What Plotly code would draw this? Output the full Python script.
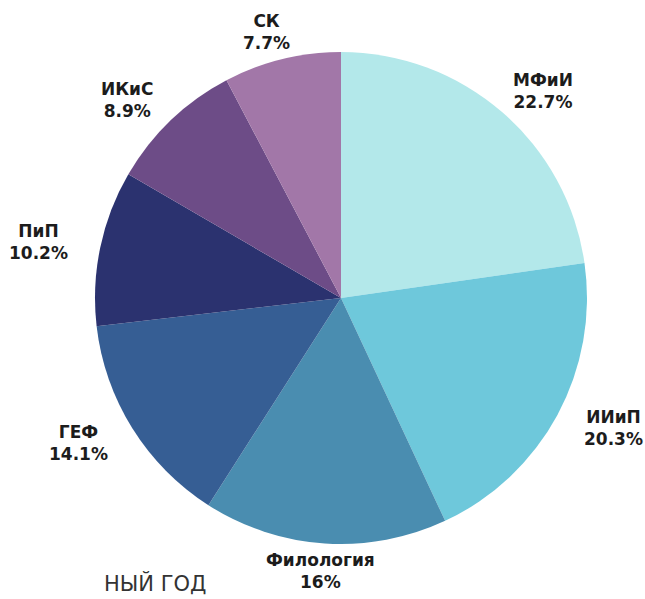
import math
import plotly.graph_objects as go

labels = ["МФиИ", "ИИиП", "Филология", "ГЕФ", "ПиП", "ИКиС", "СК"]
values = [22.7, 20.3, 16.0, 14.1, 10.2, 8.9, 7.7]
pct_text = ["22.7%", "20.3%", "16%", "14.1%", "10.2%", "8.9%", "7.7%"]
colors = ["#b3e8ea", "#6ec8db", "#4a8db0", "#365e94", "#2b326f", "#6d4c87", "#a277a8"]

W, H = 645, 599
cx, cy, r = 341, 298, 246
lab_rx, lab_ry = 1.18 * 262, 1.18 * 232
FONT = "DejaVu Sans, Verdana, sans-serif"

fig = go.Figure(go.Pie(
    labels=labels,
    values=values,
    text=pct_text,
    textinfo="none",
    marker=dict(colors=colors, line=dict(width=0)),
    sort=False,
    direction="clockwise",
    rotation=0,
    showlegend=False,
    hoverinfo="label+text",
    domain=dict(x=[(cx - r) / W, (cx + r) / W], y=[(H - cy - r) / H, (H - cy + r) / H]),
))

# data labels placed at each slice's mid-angle
total = sum(values)
cum = 0.0
for lab, v, t in zip(labels, values, pct_text):
    mid = (cum + v / 2) / total * 2 * math.pi
    cum += v
    px = cx + lab_rx * math.sin(mid)
    py = cy - lab_ry * math.cos(mid)
    fig.add_annotation(
        text=f"<b>{lab}</b><br><b>{t}</b>",
        xref="paper", yref="paper",
        x=px / W, y=1 - py / H, xanchor="center", yanchor="middle",
        showarrow=False, align="center",
        font=dict(family=FONT, size=17, color="#1c1c1c"),
    )

fig.add_annotation(
    text="НЫЙ ГОД", xref="paper", yref="paper",
    x=208 / W, y=1 - 583 / H, xanchor="right", yanchor="middle",
    showarrow=False,
    font=dict(family=FONT, size=21, color="#333333"),
)

fig.update_layout(
    width=W, height=H,
    margin=dict(l=0, r=0, t=0, b=0),
    paper_bgcolor="white",
    plot_bgcolor="white",
)

fig.write_html("out.html", config={"displayModeBar": False},
               post_script="document.body.style.margin='0';")
